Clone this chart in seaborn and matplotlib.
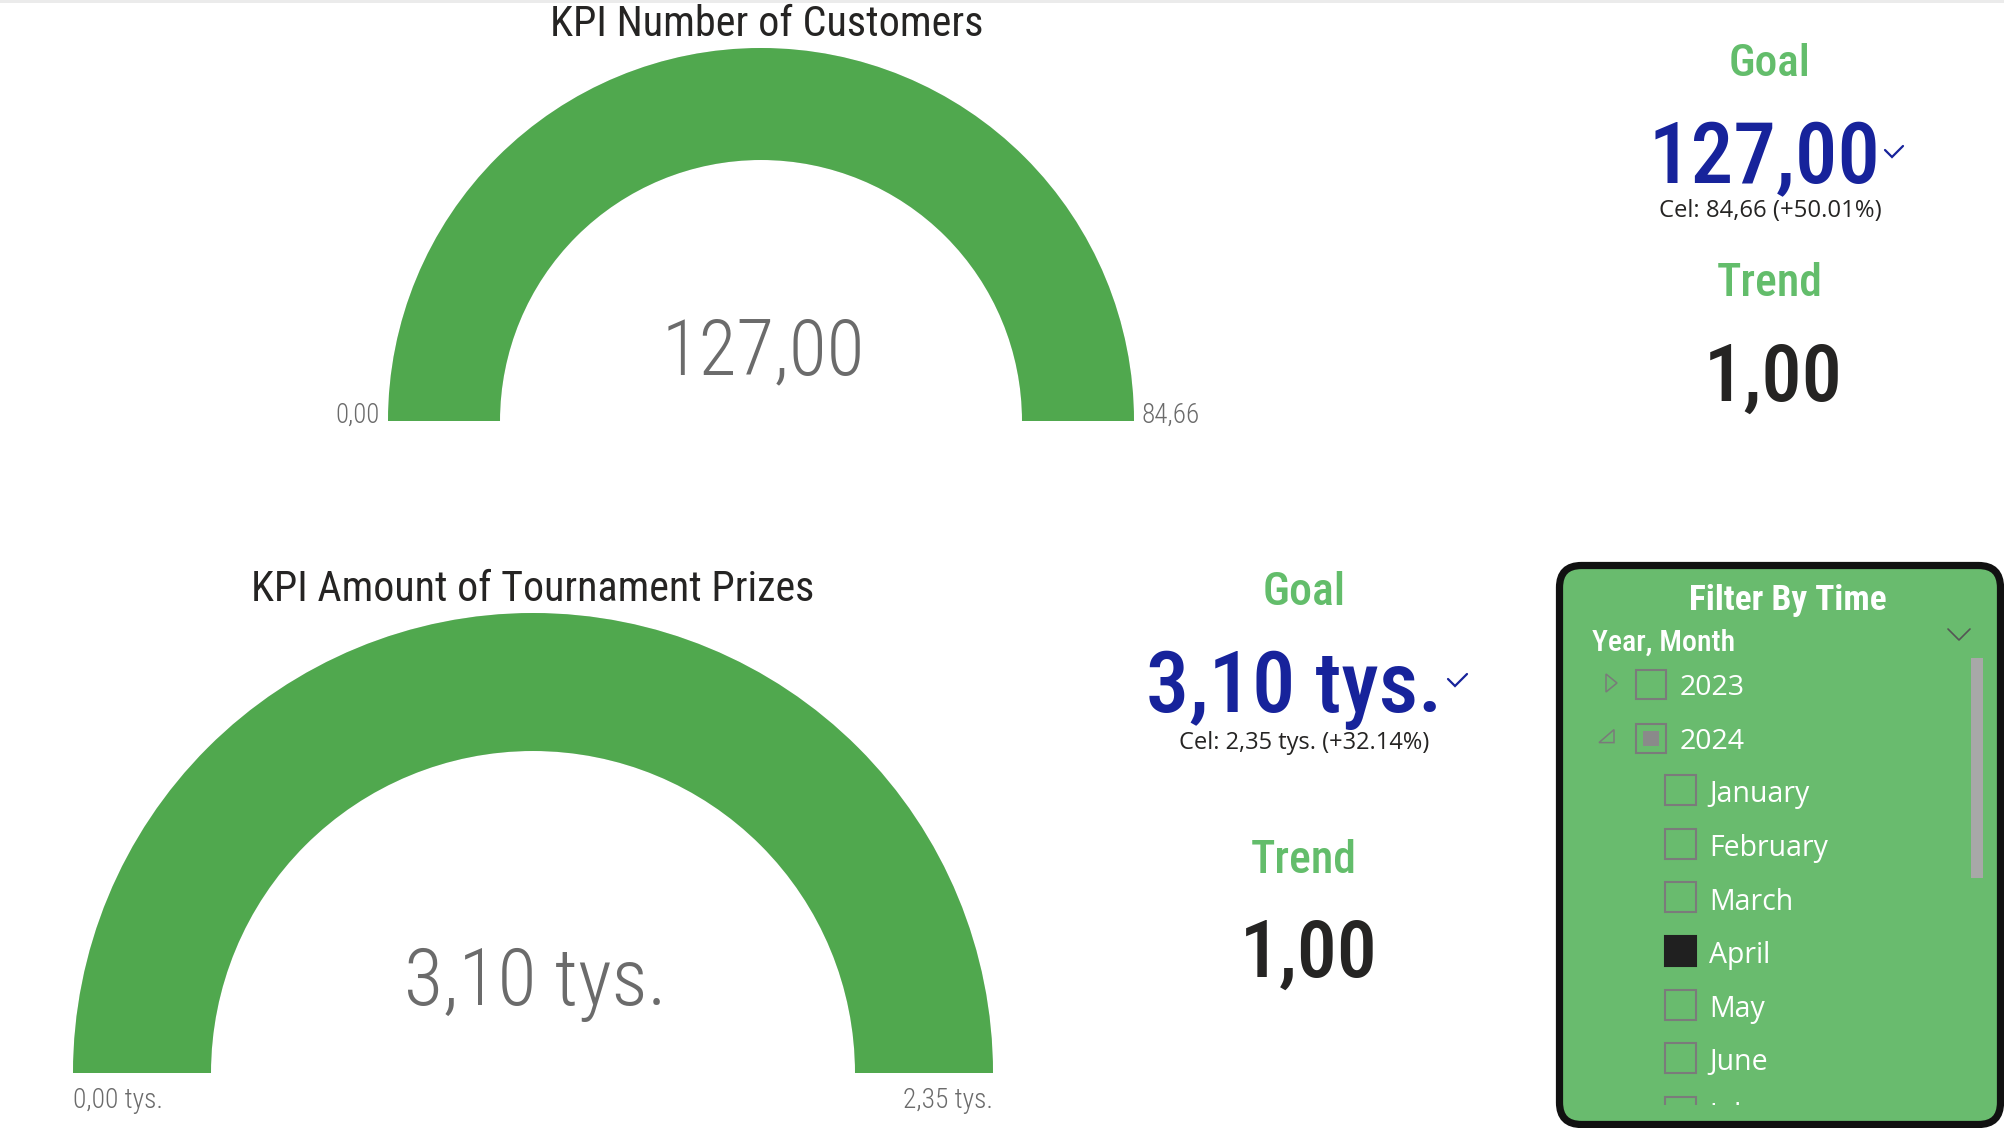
import matplotlib
matplotlib.use("Agg")
import matplotlib.pyplot as plt
import seaborn as sns
import numpy as np
from matplotlib.patches import Wedge, Rectangle, FancyBboxPatch, Polygon
from matplotlib import font_manager as fm

# ---------------- data ----------------
gauge_titles = ["KPI Number of Customers", "KPI Amount of Tournament Prizes"]
gauge_values = [127.00, 3100.0]
gauge_mins = [0.0, 0.0]
gauge_targets = [84.66, 2350.0]
gauge_thousands = [False, True]

kpi_values = [127.00, 3100.0]
kpi_targets = [84.66, 2350.0]
kpi_pct = [50.01, 32.14]
kpi_thousands = [False, True]
trend_values = [1.00, 1.00]

slicer_title = "Filter By Time"
slicer_field = "Year, Month"
slicer_years = ["2023", "2024"]
slicer_months = ["January", "February", "March", "April", "May", "June", "July"]
selected_months = ["April"]
partial_years = ["2024"]
expanded_years = ["2024"]


def fmt(v, thousands):
    if thousands:
        return f"{v / 1000:.2f}".replace(".", ",") + " tys."
    return f"{v:.2f}".replace(".", ",")


# ---------------- style ----------------
sns.set_theme(style="white")
avail = {f.name for f in fm.fontManager.ttflist}


def pick(cands):
    for c in cands:
        if c in avail:
            return c
    return "DejaVu Sans"


DIN = pick(["Roboto Condensed", "Roboto", "Lato", "DejaVu Sans"])
SEGOE = pick(["Open Sans", "Noto Sans", "DejaVu Sans"])
plt.rcParams["font.family"] = [DIN, "DejaVu Sans"]

ARC = "#50A84E"
SLICER_BG = "#69BB6E"
GOAL_GREEN = "#63BD6B"
BLUE = "#17239B"
DARK = "#252423"
GRAY = "#6B6B6B"

W, H = 2004, 1128
fig = plt.figure(figsize=(W / 100, H / 100), dpi=100)
ax = fig.add_axes([0, 0, 1, 1])
ax.set_xlim(0, W)
ax.set_ylim(H, 0)
ax.set_aspect("equal")
ax.axis("off")
renderer = fig.canvas.get_renderer()


def put(x, yc, s, cap, width=None, ha="center", family=None, weight="normal",
        color=DARK, zorder=3, size=None):
    family = family or DIN
    pt = cap / 0.71 * 72 / 100
    t = ax.text(x, yc + cap / 2, s, ha=ha, va="baseline", fontsize=pt,
                family=[family, "DejaVu Sans"], fontweight=weight, color=color,
                zorder=zorder)
    final = pt
    if size is not None:
        final = size
    elif width:
        w = t.get_window_extent(renderer).width
        pt_w = pt * width / w
        final = float(np.clip(pt_w, pt * 0.8, pt * 1.25))
    t.set_fontsize(final)
    capf = cap * final / pt
    t.set_position((x, yc + capf / 2))
    return t


# thin shadow line at top
ax.add_patch(Rectangle((0, 0), W, 3, color="#EBEBEB", lw=0))

# ---------------- gauges ----------------
gauge_geo = [
    dict(cx=761, cy=421, R=373, r=261, tx=767, ty=21, tw=436,
         vy=347, vcap=60, vw=203, ly=413, lcap=17, lw_=44, rw=58, lab_dx=8, lab_below=False),
    dict(cx=533, cy=1073, R=460, r=322, tx=533, ty=586, tw=565,
         vy=977, vcap=62, vw=262, ly=1098, lcap=18, lw_=90, rw=90, lab_dx=0, lab_below=True),
]

for i, g in enumerate(gauge_geo):
    lo, hi, val = gauge_mins[i], gauge_targets[i], gauge_values[i]
    frac = float(np.clip((val - lo) / (hi - lo), 0, 1))
    ax.add_patch(Wedge((g["cx"], g["cy"]), g["R"], 180, 360, width=g["R"] - g["r"],
                       facecolor="#E6E6E6", edgecolor="none"))
    ax.add_patch(Wedge((g["cx"], g["cy"]), g["R"], 180, 180 + 180 * frac,
                       width=g["R"] - g["r"], facecolor=ARC, edgecolor="none"))
    put(g["tx"], g["ty"], gauge_titles[i], 24, g["tw"], color=DARK)
    put(g["cx"] + 2, g["vy"], fmt(val, gauge_thousands[i]), g["vcap"], g["vw"],
        weight="light", color=GRAY)
    lo_s, hi_s = fmt(lo, gauge_thousands[i]), fmt(hi, gauge_thousands[i])
    if g["lab_below"]:
        put(g["cx"] - g["R"], g["ly"], lo_s, g["lcap"], g["lw_"], ha="left",
            weight="light", color=GRAY)
        put(g["cx"] + g["R"], g["ly"], hi_s, g["lcap"], g["rw"], ha="right",
            weight="light", color=GRAY)
    else:
        put(g["cx"] - g["R"] - g["lab_dx"], g["ly"], lo_s, g["lcap"], g["lw_"], ha="right",
            weight="light", color=GRAY)
        put(g["cx"] + g["R"] + g["lab_dx"], g["ly"], hi_s, g["lcap"], g["rw"], ha="left",
            weight="light", color=GRAY)

# ---------------- KPI cards ----------------
card_geo = [
    dict(cx=1770, gy=60, gw=82, vx=1764, vy=153, vcap=60, vw=232,
         chk=[(1885, 150), (1892, 157), (1903, 146)],
         cy=209, cw=223, ty=280, tw=106, nx=1773, ny=372, nw=139),
    dict(cx=1304, gy=589, gw=83, vx=1294, vy=681, vcap=58, vw=296,
         chk=[(1448, 679), (1455, 686), (1467, 674)],
         cy=741, cw=251, ty=857, tw=106, nx=1309, ny=948, nw=138),
]
for i, c in enumerate(card_geo):
    put(c["cx"], c["gy"], "Goal", 29, c["gw"], weight="medium", color=GOAL_GREEN)
    put(c["vx"], c["vy"], fmt(kpi_values[i], kpi_thousands[i]), c["vcap"], c["vw"],
        weight="medium", color=BLUE)
    xs, ys = zip(*c["chk"])
    ax.plot(xs, ys, color=BLUE, lw=1.6, solid_capstyle="round", solid_joinstyle="miter")
    put(c["cx"], c["cy"],
        f"Cel: {fmt(kpi_targets[i], kpi_thousands[i])} (+{kpi_pct[i]:.2f}%)",
        16.5, c["cw"], family=SEGOE, color=DARK)
    put(c["cx"], c["ty"], "Trend", 30, c["tw"], weight="medium", color=GOAL_GREEN)
    put(c["nx"], c["ny"], fmt(trend_values[i], False), 60, c["nw"], weight="medium", color=DARK)

# ---------------- slicer ----------------
ax.add_patch(FancyBboxPatch((1559.5, 565.5), 441, 559,
                            boxstyle="round,pad=0,rounding_size=22",
                            facecolor=SLICER_BG, edgecolor="none", zorder=1))
put(1788, 597, slicer_title, 23, 198, weight="bold", color="white")
put(1592, 640, slicer_field, 20, 143, ha="left", weight="medium", color="white")
ax.plot([1948, 1959, 1970], [629, 640, 629], color="#555555", lw=1.2, zorder=3)
ax.add_patch(Rectangle((1971, 658), 12, 220, facecolor="#A8A8A8", edgecolor="none", zorder=3))

row_y = 685 + 53.6 * np.arange(len(slicer_years) + len(slicer_months))
box_c = "#7B7B7B"
yr_size = None
for j, yname in enumerate(slicer_years):
    yc = row_y[j]
    if yname in expanded_years:
        tri = [(1614, yc - 9), (1614, yc + 4), (1599, yc + 4)]
    else:
        tri = [(1606, yc - 11), (1617, yc - 2), (1606, yc + 7)]
    ax.add_patch(Polygon(tri, closed=True, fill=False, edgecolor="#7A7A7A", lw=1.1, zorder=3))
    ax.add_patch(Rectangle((1636, yc - 15), 30, 29, fill=False, edgecolor=box_c, lw=1.5, zorder=3))
    if yname in partial_years:
        ax.add_patch(Rectangle((1643, yc - 8), 16, 15, facecolor="#8A8A8A", edgecolor="none", zorder=3))
    t = put(1680, yc, yname, 23, 65, ha="left", family=SEGOE, color="white", size=yr_size)
    yr_size = t.get_fontsize()

ref = put(-500, 0, "February", 23, 119, ha="left", family=SEGOE, color="white")
m_size = ref.get_fontsize()
ref.remove()
for k, mname in enumerate(slicer_months):
    yc = row_y[len(slicer_years) + k]
    sel = mname in selected_months
    ax.add_patch(Rectangle((1665, yc - 17), 31, 30,
                           facecolor="#202020" if sel else "none",
                           edgecolor="#202020" if sel else box_c, lw=1.5, zorder=3))
    put(1709, yc, mname, 23, None, ha="left", family=SEGOE, color="white", size=m_size)

# slicer viewport clip: cover overflowing rows
ax.add_patch(Rectangle((1580, 1105), 410, 16, facecolor=SLICER_BG, edgecolor="none", zorder=5))
# border
ax.add_patch(FancyBboxPatch((1559.5, 565.5), 441, 559,
                            boxstyle="round,pad=0,rounding_size=22",
                            facecolor="none", edgecolor="#111111", lw=5.2, zorder=6))

fig.savefig("out.png", dpi=100, facecolor="white")
